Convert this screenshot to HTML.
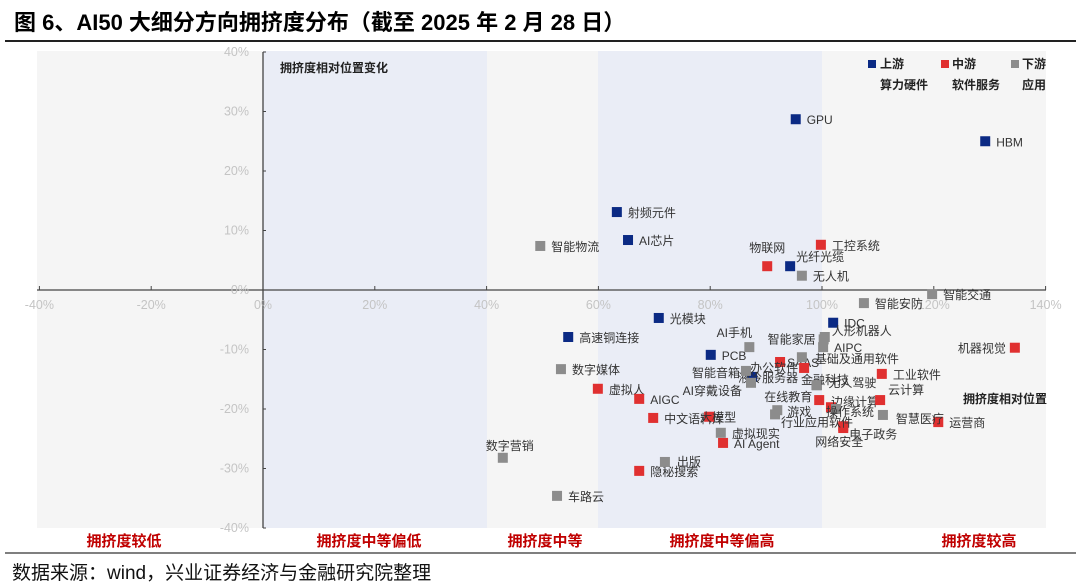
<!DOCTYPE html>
<html><head><meta charset="utf-8"><style>
body{margin:0;width:1080px;height:587px;background:#fff;overflow:hidden;font-family:"Liberation Sans","Noto Sans CJK SC",sans-serif;}
svg{position:absolute;left:0;top:0}
</style></head><body>
<svg id="chart" width="1080" height="587" font-family="Liberation Sans, Noto Sans CJK SC, sans-serif">
<text x="14" y="30" font-size="22" font-weight="bold" fill="#000">图 6、AI50 大细分方向拥挤度分布（截至 2025 年 2 月 28 日）</text>
<line x1="5" y1="41" x2="1076" y2="41" stroke="#222" stroke-width="2"/>
<rect x="37" y="51" width="1009" height="477" fill="#f5f5f5"/>
<rect x="263" y="51" width="224" height="477" fill="#eaedf6"/>
<rect x="598" y="51" width="224" height="477" fill="#eaedf6"/>
<g id="axes"></g>
<g id="marks"></g>
<text x="280" y="72" font-size="12" font-weight="bold" fill="#222">拥挤度相对位置变化</text>
<text x="963" y="403" font-size="12" font-weight="bold" fill="#222">拥挤度相对位置</text>
<g font-size="12" font-weight="bold" fill="#222">
<rect x="868" y="60" width="8" height="8" fill="#0b2a84"/>
<text x="880" y="68">上游</text>
<text x="880" y="89">算力硬件</text>
<rect x="941" y="60" width="8" height="8" fill="#e03030"/>
<text x="952" y="68">中游</text>
<text x="952" y="89">软件服务</text>
<rect x="1011" y="60" width="8" height="8" fill="#8c8c8c"/>
<text x="1022" y="68">下游</text>
<text x="1022" y="89">应用</text>
</g>
<g font-size="15" font-weight="bold" fill="#c00000" text-anchor="middle">
<text x="124" y="546">拥挤度较低</text>
<text x="369" y="546">拥挤度中等偏低</text>
<text x="545" y="546">拥挤度中等</text>
<text x="722" y="546">拥挤度中等偏高</text>
<text x="979" y="546">拥挤度较高</text>
</g>
<line x1="5" y1="553" x2="1076" y2="553" stroke="#555" stroke-width="1.5"/>
<text x="12" y="579" font-size="19" fill="#111">数据来源：wind，兴业证券经济与金融研究院整理</text>
</svg>
<script>
const names=["GPU","HBM","射频元件","AI芯片","光纤光缆","IDC","光模块","高速铜连接","PCB","液冷服务器",
"工控系统","物联网","机器视觉","工业软件","SAAS","办公软件","虚拟人","AIGC","中文语料库","大模型","AI Agent","隐秘搜索","在线教育","边缘计算","电子政务","云计算","运营商","网络安全",
"智能物流","无人机","智能交通","智能安防","人形机器人","AIPC","智能家居","AI手机","基础及通用软件","智能音箱","AI穿戴设备","金融科技","无人驾驶","游戏","行业应用软件","操作系统","智慧医疗","数字媒体","数字营销","车路云","出版","虚拟现实"];
const segment=["U","U","U","U","U","U","U","U","U","U",
"M","M","M","M","M","M","M","M","M","M","M","M","M","M","M","M","M","M",
"D","D","D","D","D","D","D","D","D","D","D","D","D","D","D","D","D","D","D","D","D","D"];
const xVals=[95.3,129.2,63.3,65.3,94.3,102.0,70.8,54.6,80.1,87.5,
99.8,90.2,134.5,110.7,92.5,96.8,59.9,67.3,69.8,79.8,82.3,67.3,99.5,101.6,103.8,110.4,120.8,103.8,
49.6,96.4,119.7,107.5,100.5,100.2,100.3,87.0,96.4,86.4,87.3,99.1,99.0,92.0,91.6,102.5,110.9,53.3,42.9,52.6,71.9,81.9];
const yVals=[28.7,25.0,13.1,8.4,4.0,-5.5,-4.7,-7.9,-10.9,-14.6,
7.6,4.0,-9.7,-14.1,-12.1,-13.1,-16.6,-18.3,-21.5,-21.3,-25.7,-30.4,-18.5,-19.7,-22.9,-18.5,-22.2,-23.2,
7.4,2.4,-0.7,-2.2,-7.9,-9.6,-8.3,-9.6,-11.3,-13.6,-15.6,-16.0,-16.0,-20.2,-20.9,-20.0,-21.0,-13.3,-28.2,-34.6,-28.9,-24.0];
const xTicks=[-40,-20,0,20,40,60,80,100,120,140];
const yTicks=[-40,-30,-20,-10,0,10,20,30,40];
// label placement (styling, not data): [dx, dy, anchor]
const labelPos={"物联网":[0,-14,"middle"],"光纤光缆":[6,-5,"start"],"人形机器人":[7,-2,"start"],"智能家居":[-8,4,"end"],"AI手机":[-15,-10,"middle"],
"办公软件":[-6,4,"end"],"SAAS":[7,5,"start"],"基础及通用软件":[13,6,"start"],"智能音箱":[-6,6,"end"],"液冷服务器":[16,5,"middle"],
"AI穿戴设备":[-9,12,"end"],"在线教育":[-7,1,"end"],"边缘计算":[0,-1,"start"],"云计算":[8,-6,"start"],"游戏":[10,6,"start"],
"行业应用软件":[6,12,"start"],"操作系统":[-10,7,"start"],"电子政务":[6,12,"start"],"网络安全":[-4,18,"middle"],"机器视觉":[-9,5,"end"],
"大模型":[9,5,"middle"],"出版":[12,4,"start"],"数字营销":[7,-8,"middle"],"金融科技":[8,-1,"middle"],"无人驾驶":[12,2,"start"],"智慧医疗":[13,8,"start"],"中文语料库":[11,5,"start"]};
const colors={U:"#0b2a84",M:"#e03030",D:"#8c8c8c"};
const X=v=>263+v*5.59, Y=v=>290-v*5.95;
const NS="http://www.w3.org/2000/svg";
function mk(tag,attrs,parent){const e=document.createElementNS(NS,tag);for(const k in attrs)e.setAttribute(k,attrs[k]);parent.appendChild(e);return e;}
const ax=document.getElementById('axes'), mg=document.getElementById('marks');
let l=mk('line',{x1:37,y1:Y(0),x2:1046,y2:Y(0),stroke:'#444','stroke-width':1.3},ax);


l=mk('line',{x1:X(0),y1:Y(40),x2:X(0),y2:Y(-40),stroke:'#444','stroke-width':1.3},ax);


xTicks.forEach(t=>{
 let tk=mk('line',{x1:X(t),y1:Y(0)-4,x2:X(t),y2:Y(0),stroke:'#444'},ax);
 
 
 let tx=mk('text',{x:X(t),y:Y(0)+19,'font-size':12.5,fill:'#c4c4c4','text-anchor':'middle'},ax);tx.textContent=t+'%';
 
 
});
yTicks.forEach(t=>{
 let tk=mk('line',{x1:X(0),y1:Y(t),x2:X(0)+3,y2:Y(t),stroke:'#444'},ax);
 
 
 let tx=mk('text',{x:X(0)-14,y:Y(t)+4,'font-size':12.5,fill:'#c4c4c4','text-anchor':'end'},ax);tx.textContent=t+'%';
 
 
});
names.forEach((n,i)=>{
 const cx=X(xVals[i]), cy=Y(yVals[i]);
 const r=mk('rect',{x:cx-5,y:cy-5,width:10,height:10,fill:colors[segment[i]]},mg);
 
 
 const p=labelPos[n]||[11,5,"start"];
 const t=mk('text',{x:cx+p[0],y:cy+p[1],'font-size':12,fill:'#333','text-anchor':p[2]},mg);
 t.textContent=n;
 
 
});
</script>
</body></html>
